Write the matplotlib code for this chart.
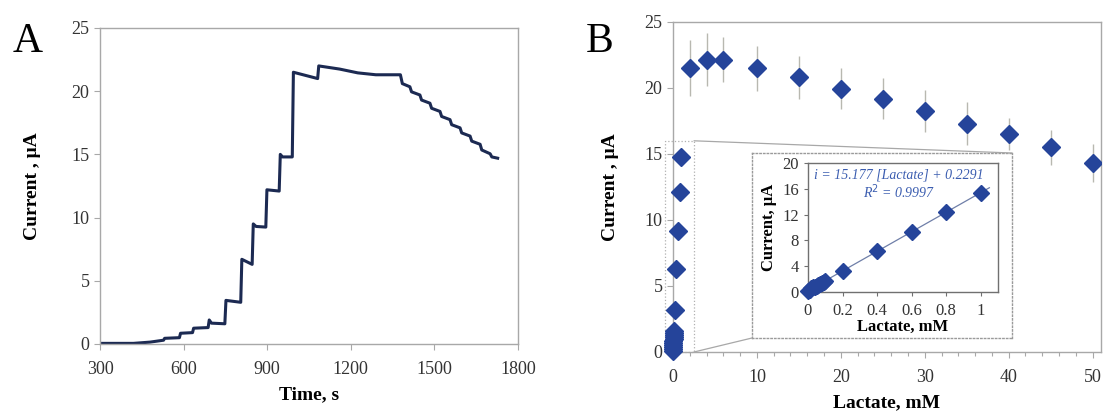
import matplotlib
matplotlib.use("Agg")
import matplotlib.pyplot as plt
from matplotlib.patches import Rectangle, ConnectionPatch
from matplotlib.ticker import MultipleLocator, FuncFormatter

plt.rcParams['font.family'] = ['Liberation Serif', 'DejaVu Serif']
plt.rcParams['mathtext.fontset'] = 'custom'

# ---- Panel A data: amperometric response ----
time_s = [300, 420, 480, 528, 532, 585, 589, 632, 636, 688, 692, 700, 748, 752, 805, 809,
          846, 850, 860, 895, 899, 943, 947, 955, 990, 994, 1081, 1085, 1160, 1225, 1290,
          1378, 1385, 1412, 1418, 1448, 1454, 1484, 1490, 1520, 1526, 1556, 1562, 1592,
          1598, 1628, 1634, 1664, 1670, 1700, 1706, 1727]
current_a = [0.05, 0.05, 0.15, 0.3, 0.45, 0.5, 0.85, 0.9, 1.25, 1.3, 1.9, 1.65, 1.6, 3.45,
             3.3, 6.7, 6.3, 9.5, 9.3, 9.25, 12.2, 12.1, 15.0, 14.8, 14.8, 21.5, 21.0, 22.0,
             21.75, 21.45, 21.3, 21.3, 20.6, 20.35, 19.95, 19.7, 19.3, 19.05, 18.65, 18.4,
             18.0, 17.75, 17.35, 17.1, 16.7, 16.45, 16.05, 15.8, 15.35, 15.05, 14.8, 14.7]

# ---- Panel B data: calibration ----
lact_low = [0, 0.01, 0.02, 0.03, 0.04, 0.05, 0.06, 0.07, 0.08, 0.09, 0.1, 0.2, 0.4, 0.6, 0.8, 1.0]
curr_low = [0.05, 0.2, 0.35, 0.5, 0.65, 0.8, 0.95, 1.1, 1.3, 1.45, 1.6, 3.2, 6.3, 9.2, 12.1, 14.8]
lact_high = [2, 4, 6, 10, 15, 20, 25, 30, 35, 40, 45, 50]
curr_high = [21.5, 22.15, 22.15, 21.5, 20.8, 19.95, 19.2, 18.25, 17.3, 16.5, 15.5, 14.3]
err_high = [2.1, 2.0, 1.7, 1.7, 1.6, 1.55, 1.55, 1.6, 1.65, 1.2, 1.3, 1.45]

# ---- Inset data ----
inset_x = [0, 0.01, 0.02, 0.03, 0.04, 0.05, 0.06, 0.07, 0.08, 0.09, 0.1, 0.2, 0.4, 0.6, 0.8, 1.0]
inset_y = [0.1, 0.35, 0.55, 0.7, 0.85, 1.0, 1.15, 1.3, 1.45, 1.6, 1.75, 3.3, 6.3, 9.35, 12.4, 15.3]
fit_x = [0, 1.05]
slope, intercept = 15.177, 0.2291
fit_y = [intercept + slope * v for v in fit_x]
eq_text = "i = 15.177 [Lactate] + 0.2291"
r2_text = "R$^2$ = 0.9997"

W, H = 1104, 412
fig = plt.figure(figsize=(W / 100, H / 100), dpi=100)

def fr(x0, y0, x1, y1):
    return [x0 / W, (H - y1) / H, (x1 - x0) / W, (y1 - y0) / H]

line_col = '#1c2a52'
mk_col = '#25449a'
spine_col = '#a8a8a8'
tick_col = '#333333'

def style_axes(ax, fs=13):
    for s in ax.spines.values():
        s.set_color(spine_col)
        s.set_linewidth(1.0)
    ax.tick_params(which='both', direction='out', color=spine_col, labelcolor=tick_col,
                   labelsize=fs, length=4, width=0.8)
    ax.tick_params(axis='x', pad=8)

# Panel A
axA = fig.add_axes(fr(100, 28, 518, 344))
axA.plot(time_s, current_a, color=line_col, lw=2.2, solid_joinstyle='round')
axA.set_xlim(300, 1800)
axA.set_ylim(0, 25)
axA.set_xticks([300, 600, 900, 1200, 1500, 1800])
axA.set_yticks([0, 5, 10, 15, 20, 25])
style_axes(axA)
axA.set_xlabel("Time, s", fontsize=14, fontweight='bold', labelpad=6)
axA.set_ylabel("Current , μA", fontsize=14, fontweight='bold', labelpad=22)
fig.text(28 / W, 1 - 42 / H, "A", fontsize=30, ha='center', va='center')

# Panel B
axB = fig.add_axes(fr(673, 22, 1101, 352))
axB.errorbar(lact_high, curr_high, yerr=err_high, fmt='none', ecolor='#b8b8b0', elinewidth=1.0,
             capsize=0, zorder=2)
axB.plot(lact_high, curr_high, 'D', color=mk_col, ms=9.5, mec=mk_col, zorder=3)
axB.plot(lact_low, curr_low, 'D', color=mk_col, ms=9.5, mec=mk_col, zorder=3, clip_on=False)
axB.set_xlim(0, 51)
axB.set_ylim(0, 25)
axB.set_xticks([0, 10, 20, 30, 40, 50])
axB.xaxis.set_minor_locator(MultipleLocator(2))
axB.set_yticks([0, 5, 10, 15, 20, 25])
style_axes(axB)
axB.tick_params(which='minor', length=3)
axB.set_xlabel("Lactate, mM", fontsize=14, fontweight='bold', labelpad=6)
axB.set_ylabel("Current , μA", fontsize=14, fontweight='bold', labelpad=18)
fig.text(600 / W, 1 - 42 / H, "B", fontsize=30, ha='center', va='center')

# zoom rectangle in B
rect = Rectangle((-1.0, 0), 3.5, 16.0, fill=False, ec='#b0b0b0', lw=0.9, ls=':',
                 clip_on=False, zorder=1)
axB.add_patch(rect)

# outer inset frame
axO = fig.add_axes(fr(752, 153, 1012, 338))
axO.set_xticks([])
axO.set_yticks([])
axO.patch.set_facecolor('white')
for s in axO.spines.values():
    s.set_color('#9a9a9a')
    s.set_linestyle(':')
    s.set_linewidth(1.0)

for (xa, ya), (xb, yb) in [((2.5, 16.0), (1, 1)), ((2.5, 0), (0, 0))]:
    con = ConnectionPatch(xyA=(xa, ya), coordsA=axB.transData, xyB=(xb, yb),
                          coordsB=axO.transAxes, color='#a8a8a8', lw=0.9)
    fig.add_artist(con)

# inner inset axes
axI = fig.add_axes(fr(808, 163, 998, 292))
axI.plot(fit_x, fit_y, color='#6f7fa8', lw=0.9, zorder=2)
axI.plot(inset_x, inset_y, 'D', color=mk_col, ms=8, mec=mk_col, zorder=3, clip_on=False)
axI.set_xlim(0, 1.1)
axI.set_ylim(0, 20)
axI.set_xticks([0, 0.2, 0.4, 0.6, 0.8, 1.0])
axI.xaxis.set_major_formatter(FuncFormatter(lambda v, p: "%g" % v))
axI.set_yticks([0, 4, 8, 12, 16, 20])
for s in axI.spines.values():
    s.set_color('#707070')
    s.set_linewidth(1.0)
axI.tick_params(direction='out', color='#707070', labelcolor=tick_col, labelsize=12,
                length=3, width=0.8)
axI.tick_params(axis='x', pad=5)
axI.set_xlabel("Lactate, mM", fontsize=12, fontweight='bold', labelpad=0)
axI.set_ylabel("Current, μA", fontsize=12, fontweight='bold', labelpad=4)
axI.text(0.48, 0.91, eq_text, transform=axI.transAxes, ha='center', va='center',
         fontsize=10, style='italic', color='#3b5db0')
axI.text(0.48, 0.78, r2_text, transform=axI.transAxes, ha='center', va='center',
         fontsize=10, style='italic', color='#3b5db0')

fig.savefig("out.png", dpi=100)
